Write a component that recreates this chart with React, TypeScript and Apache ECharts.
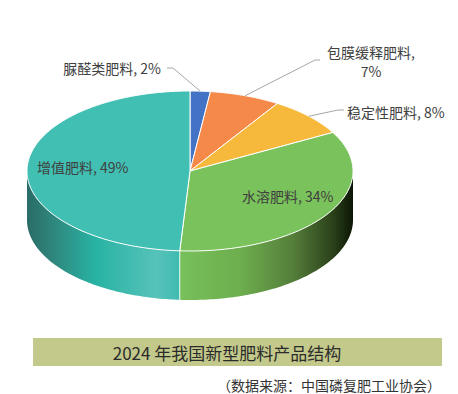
import React, { useEffect, useRef } from "react";
import * as echarts from "echarts";

const categories = ["脲醛类肥料", "包膜缓释肥料", "稳定性肥料", "水溶肥料", "增值肥料"];
const values = [2, 7, 8, 34, 49];
const titleText = "2024 年我国新型肥料产品结构";
const sourceText = "（数据来源：中国磷复肥工业协会）";

const topColors = ["#4472C4", "#F5894A", "#F6B93B", "#7AC25B", "#40BFB2"];
const wallStops: Record<number, [number, string][]> = {
  3: [
    [0, "#77C05A"],
    [0.35, "#6DAE4E"],
    [0.65, "#557F3A"],
    [0.88, "#2B421A"],
    [1, "#0C1606"],
  ],
  4: [
    [0, "#2A6C66"],
    [0.2, "#2F8B81"],
    [0.45, "#27B3A3"],
    [0.72, "#48BDB2"],
    [0.85, "#57C3BA"],
    [1, "#3FBAB0"],
  ],
};

// label layout (positions only; texts come from data)
const labelLayout = [
  { x: 161, y: 68, align: "right", knee: [173, 68], end: [167, 68], twoLine: false },
  { x: 371, y: 52, align: "center", knee: [315, 60], end: [320, 60], twoLine: true },
  { x: 347, y: 112, align: "left", knee: [338, 110], end: [344, 110], twoLine: false },
  { x: 242, y: 196, align: "left", knee: null, end: null, twoLine: false },
  { x: 37, y: 167, align: "left", knee: null, end: null, twoLine: false },
];

const CX = 190;
const CY = 171;
const RX = 163;
const RY = 80;
const DEPTH = 49;
const FONT = '"Noto Sans CJK SC", "Noto Sans", sans-serif';

export default function App() {
  const ref = useRef<HTMLDivElement>(null);
  useEffect(() => {
    if (!ref.current) return;
    const chart = echarts.init(ref.current, undefined, { renderer: "svg" });
    const total = values.reduce((a, b) => a + b, 0);
    let acc = 0;
    const data = values.map((v, i) => {
      const s = acc;
      acc += v;
      return { name: categories[i], value: [s, acc, v] };
    });
    const pt = (t: number, dy = 0) => [CX + RX * Math.sin(t), CY - RY * Math.cos(t) + dy];
    const arc = (a: number, b: number, dy = 0) => {
      const n = Math.max(2, Math.ceil(((b - a) * 180) / Math.PI));
      const out: number[][] = [];
      for (let k = 0; k <= n; k++) out.push(pt(a + ((b - a) * k) / n, dy));
      return out;
    };
    const textEl = (x: number, y: number, text: string, align: string) => ({
      type: "text",
      x,
      y,
      style: {
        text,
        fill: "#404040",
        font: `14px ${FONT}`,
        align,
        verticalAlign: "middle",
      },
    });
    const renderItem = (params: any, api: any) => {
      const idx = params.dataIndex;
      const s = api.value(0);
      const e = api.value(1);
      const v = api.value(2);
      const t0 = (s / total) * Math.PI * 2;
      const t1 = (e / total) * Math.PI * 2;
      const children: any[] = [];
      // wall
      const a = Math.max(t0, Math.PI / 2);
      const b = Math.min(t1, (Math.PI * 3) / 2);
      if (a < b) {
        const upper = arc(a, b);
        const lower = arc(a, b, DEPTH).reverse();
        const stops = wallStops[idx] || [[0, topColors[idx]], [1, topColors[idx]]];
        children.push({
          type: "polygon",
          shape: { points: upper.concat(lower) },
          style: {
            fill: new echarts.graphic.LinearGradient(
              0, 0, 1, 0,
              stops.map(([o, c]) => ({ offset: o, color: c }))
            ),
            stroke: null,
          },
        });
        if (t0 > Math.PI / 2 && t0 < (Math.PI * 3) / 2) {
          const p = pt(t0);
          children.push({
            type: "line",
            shape: { x1: p[0], y1: p[1], x2: p[0], y2: p[1] + DEPTH },
            style: { stroke: "rgba(255,255,255,0.85)", lineWidth: 1 },
          });
        }
      }
      // top face
      children.push({
        type: "polygon",
        shape: { points: [[CX, CY]].concat(arc(t0, t1)) },
        style: { fill: topColors[idx], stroke: "#ffffff", lineWidth: 1 },
      });
      // label
      const lay = labelLayout[idx];
      const name = categories[idx];
      if (lay.knee && lay.end) {
        const m = pt((t0 + t1) / 2);
        children.push({
          type: "polyline",
          shape: { points: [m, lay.knee, lay.end] },
          style: { stroke: "#A6A6A6", lineWidth: 1, fill: null },
        });
      }
      if (lay.twoLine) {
        children.push(textEl(lay.x, lay.y, `${name},`, lay.align));
        children.push(textEl(lay.x, lay.y + 19, `${v}%`, lay.align));
      } else {
        children.push(textEl(lay.x, lay.y, `${name}, ${v}%`, lay.align));
      }
      return { type: "group", children };
    };
    chart.setOption({
      animation: false,
      series: [
        {
          type: "custom",
          coordinateSystem: "none",
          renderItem,
          data,
          silent: true,
        },
      ],
      graphic: [
        {
          type: "rect",
          shape: { x: 33, y: 338, width: 409, height: 28 },
          style: { fill: "#C3C98A" },
        },
        {
          type: "text",
          x: 227,
          y: 352,
          style: {
            text: titleText,
            fill: "#2B2B2B",
            font: `17px ${FONT}`,
            align: "center",
            verticalAlign: "middle",
          },
        },
        {
          type: "text",
          x: 441,
          y: 385,
          style: {
            text: sourceText,
            fill: "#333333",
            font: `14px ${FONT}`,
            align: "right",
            verticalAlign: "middle",
          },
        },
      ],
    });
    return () => chart.dispose();
  }, []);
  return (
    <div
      ref={ref}
      style={{ position: "fixed", left: 0, top: 0, width: 458, height: 394, background: "#fff" }}
    />
  );
}
